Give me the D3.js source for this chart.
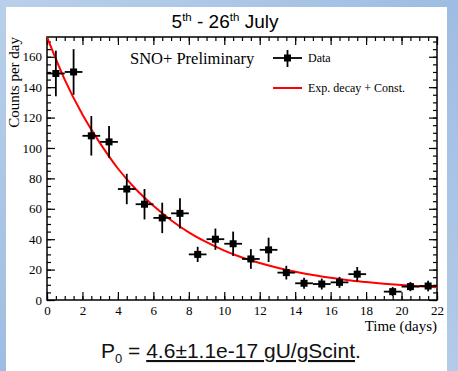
<!DOCTYPE html>
<html>
<head>
<meta charset="utf-8">
<script src="https://cdn.jsdelivr.net/npm/d3@7"></script>
<style>
  body { margin: 0; }
  svg { display: block; }
</style>
</head>
<body>
<svg id="chart" width="458" height="371"></svg>
<script>
// measured rates, one bin per day (no entry for 18.5)
const days = [0.5, 1.5, 2.5, 3.5, 4.5, 5.5, 6.5, 7.5, 8.5, 9.5, 10.5, 11.5, 12.5, 13.5, 14.5, 15.5, 16.5, 17.5, 19.5, 20.5, 21.5];
const counts = [149, 150, 108, 104, 73, 63, 54, 57, 30, 40, 37, 27, 33, 18, 11, 10.5, 11.6, 17, 5.5, 8.8, 9.2];
const errors = [15, 15, 13, 10.5, 10, 10, 10, 10, 5, 7, 8, 6.5, 8, 4.5, 3.6, 3.6, 3.6, 4.7, 3, 3, 3.5];

// fitted curve at whole days
const fitDays = [0, 1, 2, 3, 4, 5, 6, 7, 8, 9, 10, 11, 12, 13, 14, 15, 16, 17, 18, 19, 20, 21, 22];
const fitCounts = [173, 145, 122, 103, 86.5, 73, 62, 52.5, 44.5, 38, 32.5, 28, 24.3, 21.2, 18.6, 16.4, 14.6, 13.0, 11.8, 10.7, 9.8, 9.0, 8.4];

const xTicks = [0, 2, 4, 6, 8, 10, 12, 14, 16, 18, 20, 22];
const yTicks = [0, 20, 40, 60, 80, 100, 120, 140, 160];

const serif = "'Liberation Serif', 'DejaVu Serif', serif";
const sans = "'Liberation Sans', Arial, sans-serif";

const svg = d3.select('#chart');

// blue backdrop + white slide panel
const defs = svg.append('defs');
const grad = defs.append('linearGradient').attr('id', 'bg')
    .attr('x1', 0).attr('y1', 0).attr('x2', 1).attr('y2', 1);
grad.append('stop').attr('offset', '0%').attr('stop-color', '#b9d0ea');
grad.append('stop').attr('offset', '50%').attr('stop-color', '#9fbde2');
grad.append('stop').attr('offset', '100%').attr('stop-color', '#b4cbe8');
svg.append('rect').attr('width', 458).attr('height', 371).attr('fill', 'url(#bg)');
svg.append('rect').attr('x', 6).attr('y', 7).attr('width', 441).attr('height', 364).attr('fill', '#fff');

const x = d3.scaleLinear().domain([0, 22]).range([47, 437]);
const y = d3.scaleLinear().domain([0, 173]).range([300, 37]);

defs.append('clipPath').attr('id', 'frame')
  .append('rect').attr('x', 47).attr('y', 37).attr('width', 390).attr('height', 263);

// axes, ticks pointing inward on all four sides
function styleAxis(g) {
    g.select('.domain').remove();
    g.selectAll('line').attr('stroke', '#000').attr('stroke-width', 1.2);
    g.selectAll('text').attr('font-family', serif).attr('font-size', 13).attr('fill', '#000');
}

const xMinor = d3.range(0, 22.01, 0.5);
const yMinor = d3.range(0, 173, 5);

svg.append('g').attr('transform', 'translate(0,300)')
    .call(d3.axisBottom(x).tickValues(xMinor).tickSize(-4).tickFormat(''))
    .call(styleAxis);
svg.append('g').attr('transform', 'translate(0,300)')
    .call(d3.axisBottom(x).tickValues(xTicks).tickSize(-8).tickPadding(6).tickFormat(d3.format('d')))
    .call(styleAxis);
svg.append('g').attr('transform', 'translate(0,37)')
    .call(d3.axisTop(x).tickValues(xMinor).tickSize(-4).tickFormat(''))
    .call(styleAxis);
svg.append('g').attr('transform', 'translate(0,37)')
    .call(d3.axisTop(x).tickValues(xTicks).tickSize(-8).tickFormat(''))
    .call(styleAxis);

svg.append('g').attr('transform', 'translate(47,0)')
    .call(d3.axisLeft(y).tickValues(yMinor).tickSize(-4).tickFormat(''))
    .call(styleAxis);
svg.append('g').attr('transform', 'translate(47,0)')
    .call(d3.axisLeft(y).tickValues(yTicks).tickSize(-8).tickPadding(5).tickFormat(d3.format('d')))
    .call(styleAxis);
svg.append('g').attr('transform', 'translate(437,0)')
    .call(d3.axisRight(y).tickValues(yMinor).tickSize(-4).tickFormat(''))
    .call(styleAxis);
svg.append('g').attr('transform', 'translate(437,0)')
    .call(d3.axisRight(y).tickValues(yTicks).tickSize(-8).tickFormat(''))
    .call(styleAxis);

svg.append('rect')
    .attr('x', 47).attr('y', 37).attr('width', 390).attr('height', 263)
    .attr('fill', 'none').attr('stroke', '#000').attr('stroke-width', 1.5);

// fit curve
const line = d3.line()
    .x(function (d, i) { return x(fitDays[i]); })
    .y(function (d) { return y(d); })
    .curve(d3.curveMonotoneX);

svg.append('path')
    .datum(fitCounts)
    .attr('clip-path', 'url(#frame)')
    .attr('d', line)
    .attr('fill', 'none')
    .attr('stroke', '#f00')
    .attr('stroke-width', 2);

// data points with error bars
const pts = svg.append('g').selectAll('g')
    .data(days)
    .enter()
    .append('g');

pts.append('line')
    .attr('x1', function (d) { return x(d - 0.5); })
    .attr('x2', function (d) { return x(d + 0.5); })
    .attr('y1', function (d, i) { return y(counts[i]); })
    .attr('y2', function (d, i) { return y(counts[i]); })
    .attr('stroke', '#000').attr('stroke-width', 1.8);

pts.append('line')
    .attr('x1', function (d) { return x(d); })
    .attr('x2', function (d) { return x(d); })
    .attr('y1', function (d, i) { return y(counts[i] + errors[i]); })
    .attr('y2', function (d, i) { return y(Math.max(0, counts[i] - errors[i])); })
    .attr('stroke', '#000').attr('stroke-width', 1.8);

pts.append('rect')
    .attr('x', function (d) { return x(d) - 3.5; })
    .attr('y', function (d, i) { return y(counts[i]) - 3.5; })
    .attr('width', 7).attr('height', 7)
    .attr('fill', '#000');

// labels
svg.append('text')
    .attr('transform', 'translate(19,37) rotate(-90)')
    .attr('text-anchor', 'end')
    .attr('font-family', serif).attr('font-size', 15)
    .text('Counts per day');

svg.append('text')
    .attr('x', 437).attr('y', 331)
    .attr('text-anchor', 'end')
    .attr('font-family', serif).attr('font-size', 15)
    .text('Time (days)');

svg.append('text')
    .attr('x', 130).attr('y', 64)
    .attr('font-family', serif).attr('font-size', 16.5)
    .text('SNO+ Preliminary');

// legend
svg.append('line').attr('x1', 273).attr('x2', 302).attr('y1', 58).attr('y2', 58)
    .attr('stroke', '#000').attr('stroke-width', 1.8);
svg.append('line').attr('x1', 287.5).attr('x2', 287.5).attr('y1', 50).attr('y2', 67)
    .attr('stroke', '#000').attr('stroke-width', 1.8);
svg.append('rect').attr('x', 284).attr('y', 54.5).attr('width', 7).attr('height', 7).attr('fill', '#000');
svg.append('text').attr('x', 308).attr('y', 62)
    .attr('font-family', serif).attr('font-size', 12).text('Data');

svg.append('line').attr('x1', 273).attr('x2', 302).attr('y1', 88).attr('y2', 88)
    .attr('stroke', '#f00').attr('stroke-width', 2);
svg.append('text').attr('x', 308).attr('y', 92)
    .attr('font-family', serif).attr('font-size', 12).text('Exp. decay + Const.');

// title
const title = svg.append('text')
    .attr('x', 225).attr('y', 28)
    .attr('text-anchor', 'middle')
    .attr('font-family', sans).attr('font-size', 19).attr('fill', '#000');
title.append('tspan').text('5');
title.append('tspan').attr('font-size', 11.5).attr('dy', -7).text('th');
title.append('tspan').attr('dy', 7).text(' - 26');
title.append('tspan').attr('font-size', 11.5).attr('dy', -7).text('th');
title.append('tspan').attr('dy', 7).text(' July');

// result line under the plot
const res = svg.append('text')
    .attr('x', 101).attr('y', 358)
    .attr('font-family', sans).attr('font-size', 21).attr('fill', '#111');
res.append('tspan').text('P');
res.append('tspan').attr('font-size', 13).attr('dy', 5).text('0');
res.append('tspan').attr('dy', -5).text(' = ');
res.append('tspan').attr('text-decoration', 'underline').text('4.6±1.1e-17 gU/gScint');
res.append('tspan').text('.');
</script>
</body>
</html>
